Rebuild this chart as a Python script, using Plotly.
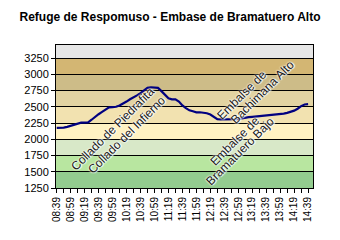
import plotly.graph_objects as go

# minutes after 08:39
minutes = list(range(0, 361, 5))
altitude = [2175, 2175, 2180, 2190, 2205, 2225, 2240, 2255, 2255, 2260,
            2300, 2345, 2385, 2420, 2460, 2490, 2495, 2500, 2520, 2545,
            2580, 2615, 2640, 2675, 2710, 2750, 2790, 2800, 2795, 2790,
            2740, 2680, 2630, 2615, 2615, 2580, 2520, 2480, 2445, 2430,
            2415, 2415, 2410, 2400, 2380, 2350, 2310, 2305, 2305, 2305,
            2305, 2305, 2310, 2320, 2335, 2340, 2345, 2350, 2355, 2360,
            2360, 2370, 2375, 2380, 2390, 2395, 2405, 2420, 2440, 2470,
            2510, 2535, 2540]

tick_minutes = list(range(0, 361, 20))
tick_labels = ["08:39", "08:59", "09:19", "09:39", "09:59", "10:19", "10:39",
               "10:59", "11:19", "11:39", "11:59", "12:19", "12:39", "12:59",
               "13:19", "13:39", "13:59", "14:19", "14:39"]

band_edges = [1250, 1500, 1750, 2000, 2250, 2500, 2750, 3000, 3250, 3450]
band_colors = ["#93cc8f", "#b8e6a0", "#d8e8c8", "#fff2c2", "#f2e2b0",
               "#e2d3a2", "#cdbc88", "#d3b673", "#e6e6e6"]

labels_text = ["Collado de Piedrafita", "Collado del Infierno",
               "Embalse de", "Bachimana Alto",
               "Embalse de", "Bramatuero Bajo"]
labels_x = [80, 100, 265, 295, 255, 263]
labels_y = [2157, 2065, 2680, 2720, 1973, 1819]

fig = go.Figure()
fig.add_trace(go.Scatter(x=minutes, y=altitude, mode="lines",
                         line=dict(color="#000080", width=2.2),
                         hoverinfo="skip", showlegend=False))

shapes = []
for i, c in enumerate(band_colors):
    shapes.append(dict(type="rect", xref="paper", yref="y", x0=0, x1=1,
                       y0=band_edges[i], y1=band_edges[i + 1],
                       fillcolor=c, line=dict(width=0), layer="below"))

annotations = []
for t, ax_, ay_ in zip(labels_text, labels_x, labels_y):
    annotations.append(dict(x=ax_, y=ay_, xref="x", yref="y", text=t,
                            showarrow=False, textangle=-45,
                            font=dict(family="Liberation Sans, Arial", size=12,
                                      color="#1a1a1a",
                                      shadow="0px 0px 2px #ffffff, 0px 0px 2px #ffffff, 1px 1px 1px #ffffff"),
                            xanchor="center", yanchor="middle"))

fig.update_layout(
    width=340, height=240,
    margin=dict(l=56, r=27, t=45, b=52),
    paper_bgcolor="white", plot_bgcolor="white",
    shapes=shapes, annotations=annotations,
    title=dict(text="<b>Refuge de Respomuso - Embase de Bramatuero Alto</b>",
               x=0.5, xanchor="center", y=0.93, yanchor="middle",
               font=dict(family="Liberation Sans, Arial", size=12, color="black")),
    font=dict(family="Liberation Sans, Arial", color="black"),
)
fig.update_xaxes(range=[-1, 367], tickvals=tick_minutes, ticktext=tick_labels,
                 tickangle=-90, tickfont=dict(size=10), ticks="outside",
                 ticklen=4, tickcolor="black", showgrid=False, zeroline=False,
                 showline=True, linecolor="black", linewidth=1, mirror=True,
                 minor=dict(ticks="outside", dtick=10, tick0=0, ticklen=4,
                            tickcolor="black", showgrid=False))
fig.update_yaxes(range=[1250, 3450], tickvals=band_edges[:-1], ticks="outside",
                 ticklen=4, tickcolor="black", tickfont=dict(size=11),
                 showgrid=True, gridcolor="black", gridwidth=1, zeroline=False,
                 showline=True, linecolor="black", linewidth=1, mirror=True)

fig.write_html("out.html")
